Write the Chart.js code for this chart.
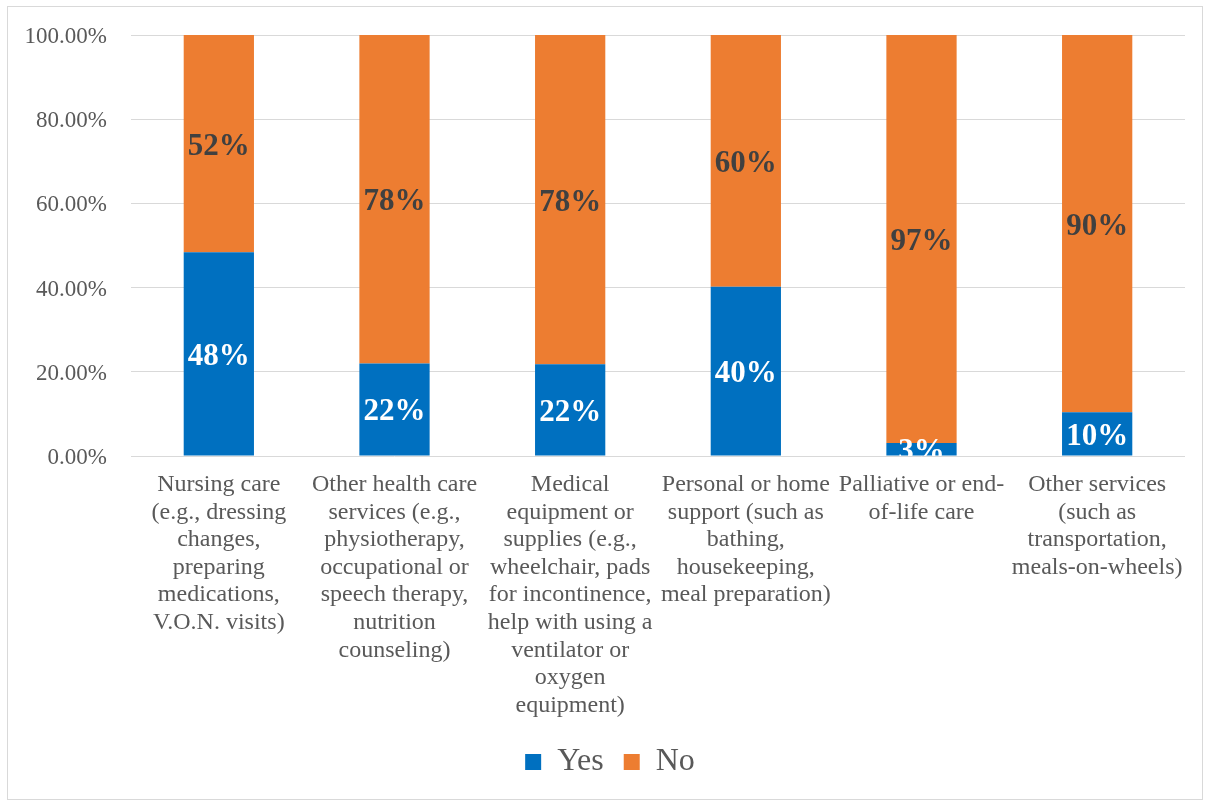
<!DOCTYPE html>
<html>
<head>
<meta charset="utf-8">
<script src="https://cdn.jsdelivr.net/npm/chart.js@4.4.1/dist/chart.umd.min.js"></script>
<style>
  html, body { margin: 0; padding: 0; background: #fff; }
  #wrap { position: absolute; left: 0; top: 0; width: 1205px; height: 801px; }
</style>
</head>
<body>
<div id="wrap"><canvas id="c" width="1205" height="801"></canvas></div>
<script>
const categories = [
  ["Nursing care", "(e.g., dressing", "changes,", "preparing", "medications,", "V.O.N. visits)"],
  ["Other health care", "services (e.g.,", "physiotherapy,", "occupational or", "speech therapy,", "nutrition", "counseling)"],
  ["Medical", "equipment or", "supplies (e.g.,", "wheelchair, pads", "for incontinence,", "help with using a", "ventilator or", "oxygen", "equipment)"],
  ["Personal or home", "support (such as", "bathing,", "housekeeping,", "meal preparation)"],
  ["Palliative or end-", "of-life care"],
  ["Other services", "(such as", "transportation,", "meals-on-wheels)"]
];
const yesValues = [48.4, 22.0, 21.8, 40.2, 3.1, 10.4];
const noValues  = [51.6, 78.0, 78.2, 59.8, 96.9, 89.6];
const yTicks = [0, 20, 40, 60, 80, 100];

const SERIF = '"Liberation Serif", "Times New Roman", serif';

const borderPlugin = {
  id: 'outerBorder',
  afterLayout(chart) {
    if (chart.legend) { chart.legend.left += 14; chart.legend.right += 14; }
  },
  afterDraw(chart) {
    const ctx = chart.ctx;
    ctx.save();
    ctx.strokeStyle = '#d9d9d9';
    ctx.lineWidth = 1;
    ctx.strokeRect(7.5, 6.5, 1195, 793);
    ctx.restore();
  }
};

const labelPlugin = {
  id: 'segLabels',
  afterDatasetsDraw(chart) {
    const ctx = chart.ctx;
    const area = chart.chartArea;
    ctx.save();
    ctx.beginPath();
    ctx.rect(area.left, area.top, area.right - area.left, area.bottom - area.top);
    ctx.clip();
    ctx.font = 'bold 31px ' + SERIF;
    ctx.textAlign = 'center';
    ctx.textBaseline = 'middle';
    chart.data.datasets.forEach((ds, di) => {
      const meta = chart.getDatasetMeta(di);
      ctx.fillStyle = di === 0 ? '#ffffff' : '#404040';
      meta.data.forEach((bar, i) => {
        const yc = (bar.y + bar.base) / 2;
        ctx.fillText(Math.round(ds.data[i]) + '%', bar.x, yc + 3);
      });
    });
    ctx.restore();
  }
};

new Chart(document.getElementById('c'), {
  type: 'bar',
  data: {
    labels: categories,
    datasets: [
      { label: 'Yes', data: yesValues, backgroundColor: '#0070C0', barPercentage: 1, categoryPercentage: 0.4 },
      { label: 'No', data: noValues, backgroundColor: '#ED7D31', barPercentage: 1, categoryPercentage: 0.4 }
    ]
  },
  options: {
    responsive: false,
    animation: false,
    layout: { padding: { left: 7, right: 20, top: 35, bottom: 13 } },
    plugins: {
      tooltip: { enabled: false },
      legend: {
        position: 'bottom',
        labels: {
          font: { family: SERIF, size: 32 },
          color: '#595959',
          boxWidth: 16,
          boxHeight: 16,
          padding: 20,
          useBorderRadius: false
        }
      }
    },
    scales: {
      x: {
        stacked: true,
        grid: { display: false, drawTicks: false },
        border: { display: false },
        ticks: {
          font: { family: SERIF, size: 24, lineHeight: 1.15 },
          color: '#595959',
          maxRotation: 0,
          minRotation: 0,
          autoSkip: false,
          padding: 15
        },
        afterFit(scale) { scale.height = 270; }
      },
      y: {
        stacked: true,
        min: 0,
        max: 100,
        afterBuildTicks(scale) { scale.ticks = yTicks.map(v => ({ value: v })); },
        grid: { color: '#d9d9d9', lineWidth: 1, drawTicks: false },
        border: { display: false },
        ticks: {
          font: { family: SERIF, size: 23 },
          color: '#595959',
          padding: 24,
          labelOffset: 2,
          callback: v => v.toFixed(2) + '%'
        },
        afterFit(scale) { scale.width = 124; scale.paddingTop = 0; scale.paddingBottom = 0; }
      }
    }
  },
  plugins: [labelPlugin, borderPlugin]
});
</script>
</body>
</html>
